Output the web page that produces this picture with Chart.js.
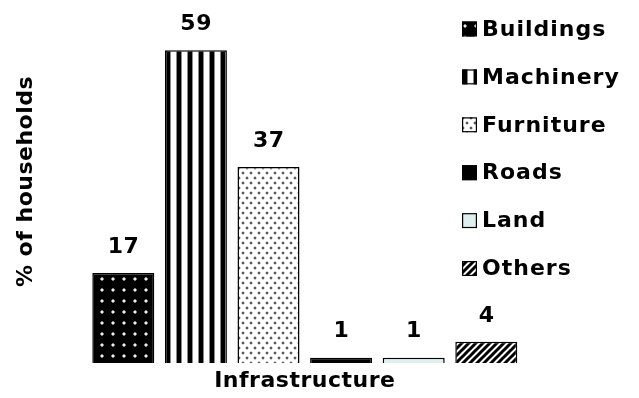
<!DOCTYPE html>
<html>
<head>
<meta charset="utf-8">
<title>Infrastructure</title>
<script src="https://cdn.jsdelivr.net/npm/chart.js@4.4.1/dist/chart.umd.min.js"></script>
<style>
  html, body { margin: 0; padding: 0; background: #fff; }
  #c { display: block; }
</style>
</head>
<body>
<canvas id="c" width="639" height="398"></canvas>
<script>
// Share of households reporting each type of infrastructure
const categories = ['Infrastructure'];
const seriesNames = ['Buildings', 'Machinery', 'Furniture', 'Roads', 'Land', 'Others'];
const buildings = [17];
const machinery = [59];
const furniture = [37];
const roads = [1];
const land = [1];
const others = [4];

const FONT = 'DejaVu Sans';
const canvas = document.getElementById('c');
const ctx = canvas.getContext('2d');

// Small repeating tiles used as bar fills
function tile(w, h, paint) {
  const t = document.createElement('canvas');
  t.width = w; t.height = h;
  paint(t.getContext('2d'), w, h);
  return ctx.createPattern(t, 'repeat');
}

const dotsOnBlack = tile(11, 11, (g, w, h) => {
  g.fillStyle = '#000'; g.fillRect(0, 0, w, h);
  g.fillStyle = '#7a7a7a'; g.fillRect(1, 3, 4, 2); g.fillRect(2, 2, 2, 4);
  g.fillStyle = '#eeeeee'; g.fillRect(2, 3, 2, 2);
});

const verticalStripes = tile(11, 11, (g, w, h) => {
  g.fillStyle = '#fff'; g.fillRect(0, 0, w, h);
  g.fillStyle = '#8a8a8a'; g.fillRect(0, 0, 1, h); g.fillRect(5, 0, 1, h);
  g.fillStyle = '#000'; g.fillRect(1, 0, 4, h);
});

const dotsOnWhite = tile(8, 10, (g, w, h) => {
  g.fillStyle = '#fff'; g.fillRect(0, 0, w, h);
  g.fillStyle = '#d4d4d4';
  g.fillRect(1, 2, 4, 2); g.fillRect(2, 1, 2, 4);
  g.fillRect(5, 7, 3, 2); g.fillRect(0, 7, 1, 2); g.fillRect(6, 6, 2, 4);
  g.fillStyle = '#5a5a5a';
  g.fillRect(2, 2, 2, 2); g.fillRect(6, 7, 2, 2);
});

const hatch = tile(7, 7, (g, w, h) => {
  g.fillStyle = '#fff'; g.fillRect(0, 0, w, h);
  g.strokeStyle = '#000'; g.lineWidth = 3;
  g.beginPath();
  g.moveTo(-2, h + 2); g.lineTo(w + 2, -2);
  g.moveTo(-2, 2); g.lineTo(2, -2);
  g.moveTo(w - 2, h + 2); g.lineTo(w + 2, h - 2);
  g.stroke();
});

const fills = [dotsOnBlack, verticalStripes, dotsOnWhite, '#000', '#ddf0f0', hatch];
const values = [buildings, machinery, furniture, roads, land, others];

const datasets = seriesNames.map((name, i) => ({
  label: name,
  data: values[i],
  backgroundColor: fills[i],
  borderColor: '#000',
  borderWidth: 1.5,
  barPercentage: 0.854,
  categoryPercentage: 1
}));

// Slightly open lettering for the text drawn by the axes
const lettering = {
  id: 'lettering',
  beforeDraw(chart) { chart.ctx.letterSpacing = '0.5px'; }
};

// Value printed above each bar
const valueLabels = {
  id: 'valueLabels',
  afterDatasetsDraw(chart) {
    const c = chart.ctx;
    c.save();
    c.font = `bold 22px "${FONT}"`;
    c.letterSpacing = '0.5px';
    c.fillStyle = '#000';
    c.textAlign = 'center';
    c.textBaseline = 'middle';
    chart.data.datasets.forEach((ds, i) => {
      const meta = chart.getDatasetMeta(i);
      meta.data.forEach((bar, j) => {
        c.fillText(String(ds.data[j]), bar.x + 0.25, bar.y - 26);
      });
    });
    c.restore();
  }
};

// Key listing the series down the right-hand side
const sideKey = {
  id: 'sideKey',
  afterDraw(chart) {
    const c = chart.ctx;
    const boxX = 462, box = 15, textX = 482, firstY = 29, step = 47.9;
    c.save();
    c.font = `bold 22px "${FONT}"`;
    c.letterSpacing = '1px';
    c.textAlign = 'left';
    c.textBaseline = 'middle';
    chart.data.datasets.forEach((ds, i) => {
      const y = firstY + i * step;
      c.fillStyle = ds.backgroundColor;
      c.fillRect(boxX, y - box / 2, box, box);
      c.strokeStyle = '#000';
      c.lineWidth = 1.2;
      c.strokeRect(boxX + 0.6, y - box / 2 + 0.6, box - 1.2, box - 1.2);
      c.fillStyle = '#000';
      c.fillText(ds.label, textX, y + 1);
    });
    c.restore();
  }
};

new Chart(canvas, {
  type: 'bar',
  data: { labels: categories, datasets },
  options: {
    responsive: false,
    animation: false,
    layout: { padding: { left: 0, right: 116.4, top: 0, bottom: 0 } },
    plugins: {
      legend: { display: false },
      tooltip: { enabled: false }
    },
    scales: {
      x: {
        grid: { display: false, drawTicks: false },
        border: { display: false },
        ticks: {
          color: '#000',
          padding: 5,
          font: { family: FONT, size: 22, weight: 'bold' }
        },
        afterFit(scale) { scale.height = 35; }
      },
      y: {
        min: 0,
        max: 68.5,
        grid: { display: false, drawTicks: false },
        border: { display: false },
        ticks: { display: false },
        title: {
          display: true,
          text: '% of households',
          color: '#000',
          padding: { top: 13, bottom: 0 },
          font: { family: FONT, size: 22, weight: 'bold' }
        },
        afterFit(scale) { scale.width = 87; }
      }
    }
  },
  plugins: [lettering, valueLabels, sideKey]
});
</script>
</body>
</html>
